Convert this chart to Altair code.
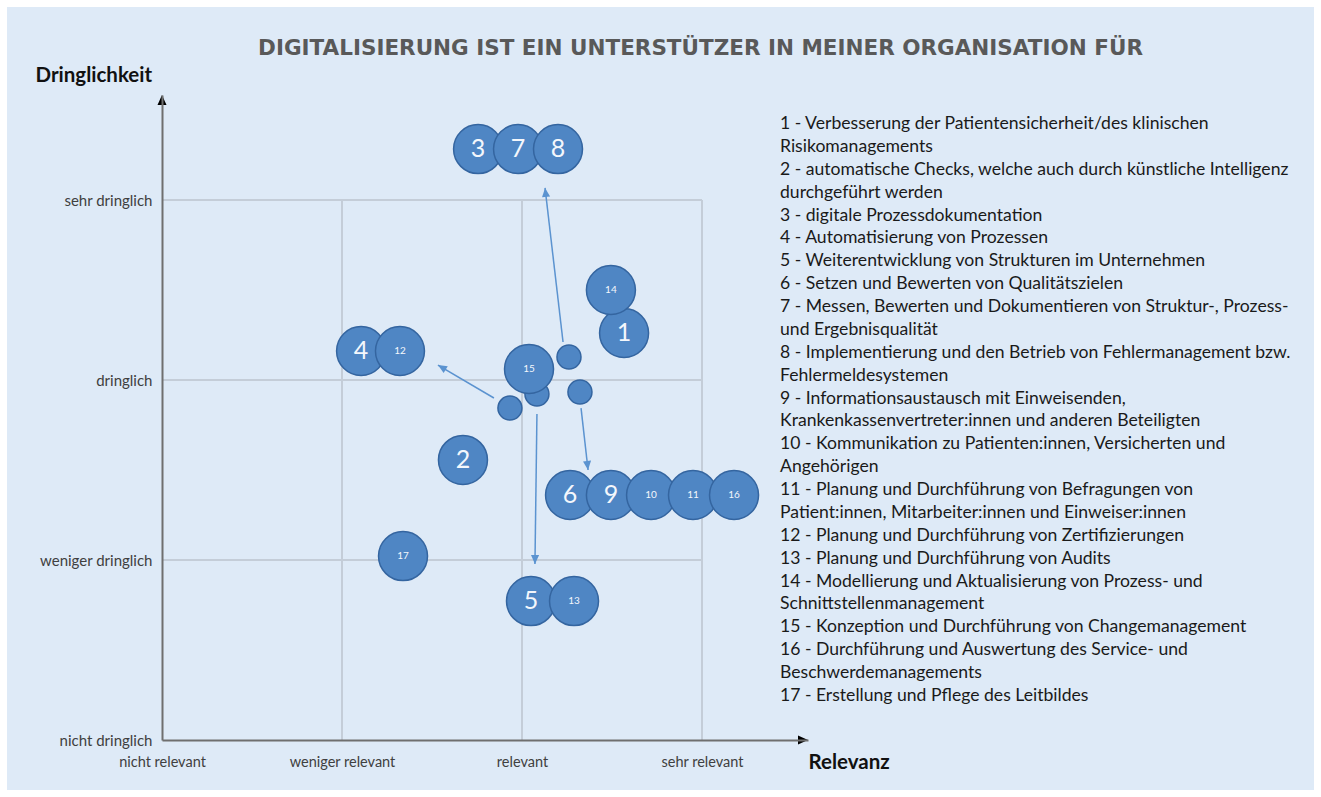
import json
import math
import altair as alt
import pandas as pd

# ---------------- data ----------------
TITLE = "DIGITALISIERUNG IST EIN UNTERSTÜTZER IN MEINER ORGANISATION FÜR"
X_TITLE = "Relevanz"
Y_TITLE = "Dringlichkeit"
X_LABELS = ["nicht relevant", "weniger relevant", "relevant", "sehr relevant"]
Y_LABELS = ["nicht dringlich", "weniger dringlich", "dringlich", "sehr dringlich"]

# bubbles (drawing order = stacking order); "" = small unlabeled bubble
bubble_label = ["3", "7", "8", "1", "14", "4", "12", "", "15", "", "", "",
                "2", "6", "9", "10", "11", "16", "5", "13", "17"]
bubble_x = [1.756, 1.978, 2.200, 2.567, 2.494, 1.106, 1.322, 2.083, 2.039, 2.261, 2.322, 1.933,
            1.672, 2.267, 2.494, 2.717, 2.950, 3.178, 2.050, 2.289, 1.339]
bubble_y = [3.283, 3.283, 3.283, 2.261, 2.500, 2.161, 2.161, 1.922, 2.061, 2.128, 1.933, 1.844,
            1.556, 1.361, 1.361, 1.361, 1.361, 1.361, 0.772, 0.772, 1.022]

# arrows (start -> end)
arrow_x0 = [2.228, 1.844, 2.083, 2.328]
arrow_y0 = [2.211, 1.900, 1.811, 1.844]
arrow_x1 = [2.128, 1.533, 2.072, 2.367]
arrow_y1 = [3.067, 2.083, 0.978, 1.500]

grid_levels = [1, 2, 3]

LEGEND_LINES = [
    "1 - Verbesserung der Patientensicherheit/des klinischen",
    "Risikomanagements",
    "2 - automatische Checks, welche auch durch künstliche Intelligenz",
    "durchgeführt werden",
    "3 - digitale Prozessdokumentation",
    "4 - Automatisierung von Prozessen",
    "5 - Weiterentwicklung von Strukturen im Unternehmen",
    "6 - Setzen und Bewerten von Qualitätszielen",
    "7 - Messen, Bewerten und Dokumentieren von Struktur-, Prozess-",
    "und Ergebnisqualität",
    "8 - Implementierung und den Betrieb von Fehlermanagement bzw.",
    "Fehlermeldesystemen",
    "9 - Informationsaustausch mit Einweisenden,",
    "Krankenkassenvertreter:innen und anderen Beteiligten",
    "10 - Kommunikation zu Patienten:innen, Versicherten und",
    "Angehörigen",
    "11 - Planung und Durchführung von Befragungen von",
    "Patient:innen, Mitarbeiter:innen und Einweiser:innen",
    "12 - Planung und Durchführung von Zertifizierungen",
    "13 - Planung und Durchführung von Audits",
    "14 - Modellierung und Aktualisierung von Prozess- und",
    "Schnittstellenmanagement",
    "15 - Konzeption und Durchführung von Changemanagement",
    "16 - Durchführung und Auswertung des Service- und",
    "Beschwerdemanagements",
    "17 - Erstellung und Pflege des Leitbildes",
]

# ---------------- layout ----------------
W, H = 1321, 797
PL, PT = 162, 95          # plot origin
PW, PH = 646, 645         # plot size
UNIT = 180.0              # pixels per category step
XMAX = PW / UNIT
YMAX = PH / UNIT

FONT = "Lato"
BUBBLE_FILL = "#4f86c4"
BUBBLE_STROKE = "#3465a0"
ARROW_COLOR = "#5b93d0"
GRID_COLOR = "#c4cdd8"
BG = "#deeaf7"

xs = alt.Scale(domain=[0, XMAX], nice=False, zero=False)
ys = alt.Scale(domain=[0, YMAX], nice=False, zero=False)

x_expr = json.dumps(X_LABELS) + "[datum.value]"
y_expr = json.dumps(Y_LABELS) + "[datum.value]"

X_AXIS = alt.Axis(
    values=[0, 1, 2, 3], labelExpr=x_expr, ticks=False, grid=False, zindex=1,
    domainColor="#6f6f6f", domainWidth=2, labelFont=FONT, labelFontSize=14.5,
    labelColor="#404040", labelPadding=15, labelFlush=False, labelOverlap=False,
    title=X_TITLE, titleFont=FONT, titleFontSize=20.5, titleFontWeight="bold",
    titleColor="#111111", titleAngle=0, titleX=PW, titleY=22,
    titleAlign="left", titleBaseline="middle")
Y_AXIS = alt.Axis(
    values=[0, 1, 2, 3], labelExpr=y_expr, ticks=False, grid=False, zindex=1,
    domainColor="#6f6f6f", domainWidth=2, labelFont=FONT, labelFontSize=15,
    labelColor="#404040", labelPadding=10, labelBaseline="middle",
    labelFlush=False, labelOverlap=False,
    title=Y_TITLE, titleFont=FONT, titleFontSize=20.5, titleFontWeight="bold",
    titleColor="#111111", titleAngle=0, titleX=35 - PL, titleY=75 - PT,
    titleAlign="left", titleBaseline="middle")


def X(field):
    return alt.X(field, scale=xs, axis=X_AXIS)


def Y(field):
    return alt.Y(field, scale=ys, axis=Y_AXIS)


# panel background
panel = alt.Chart(pd.DataFrame({"a": [0]})).mark_rect(color=BG).encode(
    x=alt.value(7 - PL), x2=alt.value(1314 - PL),
    y=alt.value(7 - PT), y2=alt.value(790 - PT),
)

# grid lines (limited box)
grid_df = pd.DataFrame(
    [{"x0": g, "x1": g, "y0": 0, "y1": 3} for g in grid_levels]
    + [{"x0": 0, "x1": 3, "y0": g, "y1": g} for g in grid_levels]
)
grid = alt.Chart(grid_df).mark_rule(color=GRID_COLOR, strokeWidth=2).encode(
    x=X("x0:Q"), x2="x1:Q", y=Y("y0:Q"), y2="y1:Q",
)

# arrows
adf = pd.DataFrame({"x0": arrow_x0, "y0": arrow_y0, "x1": arrow_x1, "y1": arrow_y1})
adf["ang"] = [(math.degrees(math.atan2(x1 - x0, y1 - y0)) + 360) % 360
              for x0, y0, x1, y1 in zip(arrow_x0, arrow_y0, arrow_x1, arrow_y1)]
HEAD = "M0,0L-0.45,1L0.45,1Z"
arrow_lines = alt.Chart(adf).mark_rule(color=ARROW_COLOR, strokeWidth=1.5).encode(
    x=X("x0:Q"), x2="x1:Q", y=Y("y0:Q"), y2="y1:Q",
)
arrow_heads = alt.Chart(adf).mark_point(shape=HEAD, filled=True, size=324,
                                        color=ARROW_COLOR, opacity=1).encode(
    x=X("x1:Q"), y=Y("y1:Q"),
    angle=alt.Angle("ang:Q", scale=None),
)

# axis arrowheads
axdf = pd.DataFrame({"x": [0, XMAX], "y": [YMAX, 0], "ang": [0, 90]})
axis_heads = alt.Chart(axdf).mark_point(shape=HEAD, filled=True, size=400,
                                        color="#000000", opacity=1).encode(
    x=X("x:Q"), y=Y("y:Q"),
    angle=alt.Angle("ang:Q", scale=None),
)

# bubbles
bdf = pd.DataFrame({"label": bubble_label, "x": bubble_x, "y": bubble_y})
bdf["order"] = range(len(bdf))
bdf["sz"] = [2401 if l else 576 for l in bubble_label]
bdf["fs"] = [25 if len(l) == 1 else 10 for l in bubble_label]
bubbles = alt.Chart(bdf).mark_point(filled=True, shape="circle", fill=BUBBLE_FILL,
                                    stroke=BUBBLE_STROKE, strokeWidth=1.5, opacity=1).encode(
    x=X("x:Q"), y=Y("y:Q"),
    size=alt.Size("sz:Q", scale=None, legend=None),
    order=alt.Order("order:Q"),
)
bubble_text = alt.Chart(bdf).mark_text(font=FONT, color="#f4f7fc", baseline="middle",
                                       align="center").encode(
    x=X("x:Q"), y=Y("y:Q"),
    text="label:N",
    size=alt.Size("fs:Q", scale=None, legend=None),
)

# legend text
legend = alt.Chart(pd.DataFrame({"a": [0]})).mark_text(
    text=LEGEND_LINES, align="left", baseline="middle", font=FONT, fontSize=17.6,
    lineHeight=22.88, color="#1a1a1a",
).encode(x=alt.value(780 - PL), y=alt.value(124 - PT))

chart = alt.layer(
    panel, grid, arrow_lines, arrow_heads, axis_heads, bubbles, bubble_text, legend
).properties(
    width=PW, height=PH,
    padding={"left": PL, "top": PT, "right": W - PL - PW, "bottom": H - PT - PH},
    autosize=alt.AutoSizeParams(type="none"),
    background="#ffffff",
    title=alt.TitleParams(TITLE, font="DejaVu Sans", fontSize=21.5, fontWeight="bold",
                          color="#595959", anchor="middle", frame="group",
                          baseline="middle", offset=0,
                          dx=700.5 - PL - PW / 2, dy=63),
).configure_view(strokeWidth=0)

chart.save("out.html", embed_options={"renderer": "svg", "actions": False})
